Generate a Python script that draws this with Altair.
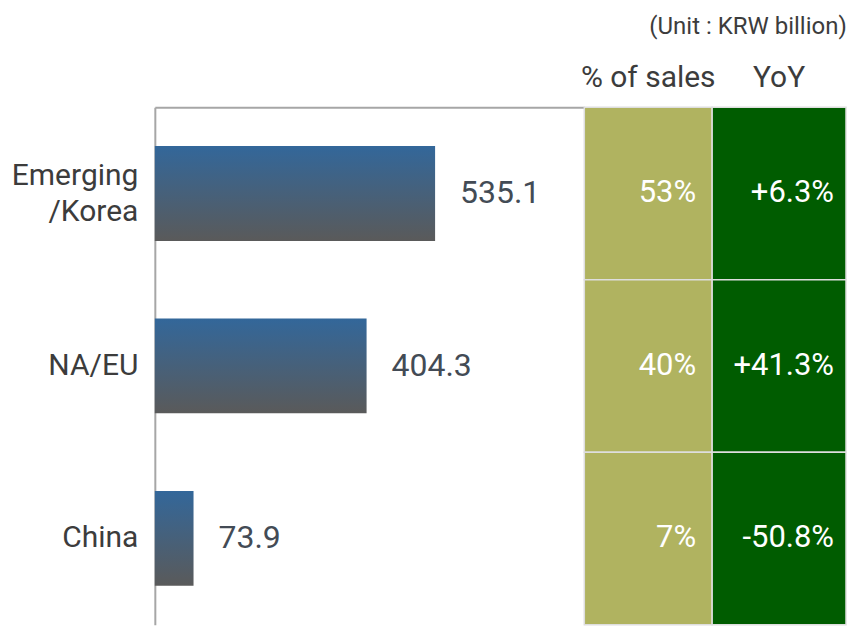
import altair as alt
import pandas as pd

# ---- data ----
categories = ["Emerging/Korea", "NA/EU", "China"]
sales = [535.1, 404.3, 73.9]
share_of_sales = ["53%", "40%", "7%"]
yoy = ["+6.3%", "+41.3%", "-50.8%"]

df = pd.DataFrame({
    "cat": categories,
    "sales": sales,
    "share": share_of_sales,
    "yoy": yoy,
})

FONT = "Roboto"
H = 518

ybar = alt.Y(
    "cat:N", sort=categories,
    scale=alt.Scale(paddingInner=0.45, paddingOuter=0.225),
    axis=alt.Axis(
        title=None, ticks=False, domain=True, domainColor="#a6a6a6", domainWidth=2,
        labelFont=FONT, labelFontSize=30, labelColor="#3c3c3c", labelPadding=17,
        labelLineHeight=36, minExtent=147, maxExtent=147,
        labelOffset=alt.condition("datum.value == 'Emerging/Korea'", alt.value(-17), alt.value(0)),
        labelExpr="datum.label == 'Emerging/Korea' ? ['Emerging', '/Korea'] : datum.label",
    ),
)
xbar = alt.X(
    "sales:Q", scale=alt.Scale(domain=[0, 820], nice=False),
    axis=alt.Axis(orient="top", labels=False, ticks=False, grid=False, title=None,
                  domainColor="#a6a6a6", domainWidth=2),
)

grad = alt.Gradient(
    gradient="linear",
    stops=[alt.GradientStop(color="#33679a", offset=0),
           alt.GradientStop(color="#5a5a5a", offset=1)],
    x1=0, x2=0, y1=0, y2=1,
)

bars = alt.Chart(df).mark_bar(color=grad).encode(x=xbar, y=ybar)
vals = alt.Chart(df).mark_text(
    align="left", baseline="middle", dx=25, font=FONT, fontSize=32, color="#434b55"
).encode(x="sales:Q", y=alt.Y("cat:N", sort=categories), text=alt.Text("sales:Q", format=".1f"))

bar_panel = alt.layer(bars, vals).properties(width=430, height=H)


def column(field, title, color, width, text_right):
    yc = alt.Y("cat:N", sort=categories, axis=None,
               scale=alt.Scale(paddingInner=0, paddingOuter=0))
    cells = alt.Chart(df).mark_rect(color=color, stroke="#dedede", strokeWidth=1.5).encode(y=yc)
    txt = alt.Chart(df).mark_text(
        align="right", baseline="middle", font=FONT, fontSize=31, color="white"
    ).encode(y=yc, x=alt.value(text_right), text=f"{field}:N")
    return alt.layer(cells, txt).properties(
        width=width, height=H,
        title=alt.TitleParams(title, font=FONT, fontSize=30, fontWeight="normal",
                              color="#3c3c3c", anchor="middle", offset=14),
    )


col_share = column("share", "% of sales", "#b0b360", 128, 112)
col_yoy = column("yoy", "YoY", "#005c00", 134, 122)

chart = alt.hconcat(bar_panel, col_share, col_yoy, spacing=0, bounds="flush").properties(
    padding={"top": 6, "left": 0, "right": 0, "bottom": 0},
    title=alt.TitleParams("(Unit : KRW billion)", font=FONT, fontSize=24,
                          fontWeight="normal", color="#3c3c3c", anchor="end", offset=24),
).configure_view(stroke=None)

chart.save("out.html", embed_options={"renderer": "svg", "actions": False})
